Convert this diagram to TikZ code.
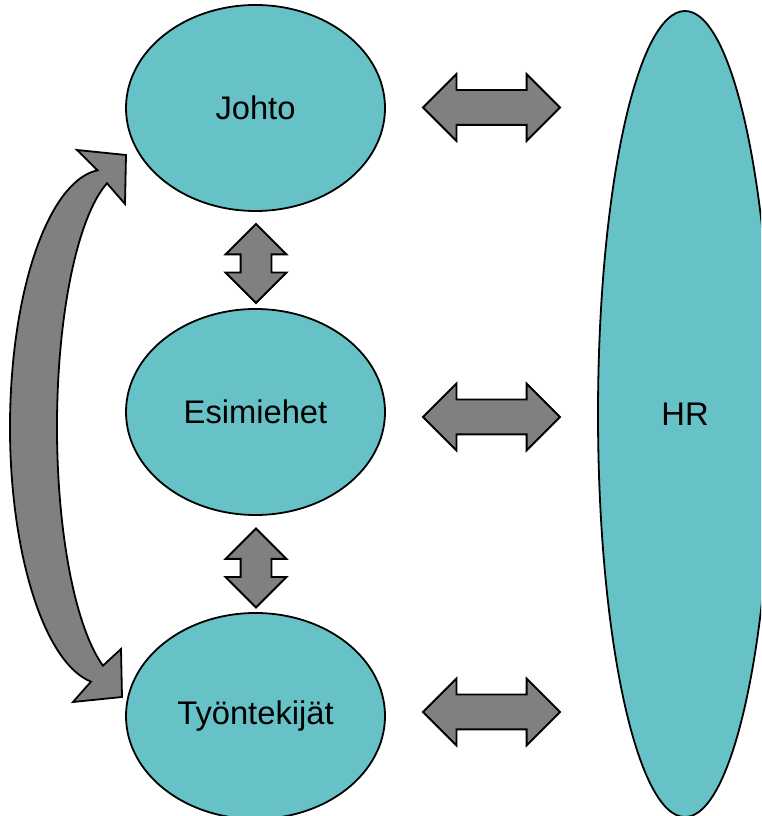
\documentclass[tikz,border=0pt]{standalone}
\usepackage{fontspec}
\setmainfont{Liberation Sans}
\usetikzlibrary{shapes.geometric,shapes.arrows}
\definecolor{tealfill}{RGB}{102,194,198}
\definecolor{arrowgray}{RGB}{128,128,128}
\begin{document}
\begin{tikzpicture}[x=1pt,y=1pt,
  blob/.style={ellipse, draw=black, line width=1.8pt, fill=tealfill, inner sep=0pt,
    font=\fontsize{32.7}{39}\selectfont},
  blockarrow/.style={double arrow, draw=black, line width=1.8pt, fill=arrowgray,
    double arrow tip angle=90, inner xsep=0pt, minimum width=0pt},
  harrow/.style={blockarrow, double arrow head extend=16pt, inner ysep=16.5pt, minimum height=137pt},
  varrow/.style={blockarrow, rotate=90, double arrow head extend=15pt, inner ysep=14.5pt, minimum height=79pt},
  curvedband/.style={draw=black, line width=1.8pt, fill=arrowgray, line join=miter}]
\useasboundingbox (0,0) rectangle (761,816);
\clip (0,0) rectangle (761,816);
% HR
\node[blob, minimum width=174pt, minimum height=806pt] (hr) at (685,402) {HR};
% left column
\node[blob, minimum width=259pt, minimum height=206pt] (johto) at (255.5,708) {Johto};
\node[blob, minimum width=259pt, minimum height=206pt] (esim) at (255.5,404) {Esimiehet};
\node[blob, minimum width=259pt, minimum height=206pt] (tyon) at (255.5,100) {Työntekijät};
% horizontal double arrows
\node[harrow] (h1) at (491.5,708.5) {};
\node[harrow] (h2) at (491.5,399) {};
\node[harrow] (h3) at (491.5,104) {};
% vertical double arrows
\node[varrow] (v1) at (256,552.5) {};
\node[varrow] (v2) at (256,248) {};
% curved double arrow
\path[curvedband] (126,661) -- (125,612)
  -- ([shift={(129,389)}]107.8:72 and 256)
  arc[start angle=107.8, end angle=248.8, x radius=72, y radius=256]
  -- (121,167) -- (122,119) -- (73,114)
  -- ([shift={(105,389)}]261.5:95 and 257.5)
  arc[start angle=261.5, end angle=94.5, x radius=95, y radius=257.5]
  -- (77,666) -- cycle;
\end{tikzpicture}
\end{document}
